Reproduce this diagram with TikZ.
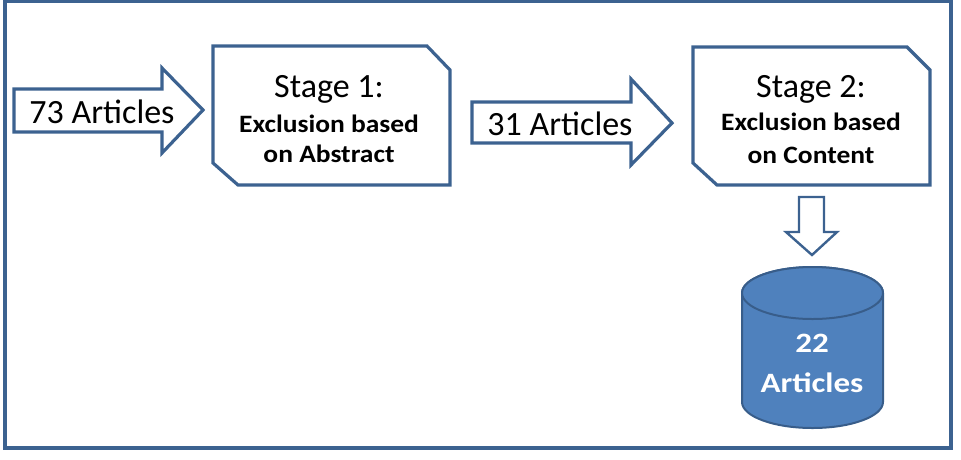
\documentclass[tikz,border=0pt]{standalone}
\usepackage{fontspec}
\setmainfont{Carlito}
\newfontfamily\boldwide[FakeStretch=1.1]{Carlito}
\newfontfamily\boldwider[FakeStretch=1.18]{Carlito}
\definecolor{edge}{HTML}{3C6290}
\definecolor{cylfill}{HTML}{4F81BD}
\definecolor{cyledge}{HTML}{385D8A}
\begin{document}
\begin{tikzpicture}[x=1pt,y=-1pt,
  outline/.style={draw=edge,line width=3.2pt,line join=miter,fill=white},
  big/.style={font=\fontsize{34}{36}\selectfont,inner sep=0pt,anchor=base},
  small/.style={font=\boldwide\bfseries\fontsize{25}{26}\selectfont,inner sep=0pt,anchor=base},
  cyltext/.style={font=\boldwider\bfseries\fontsize{28}{30}\selectfont,inner sep=0pt,anchor=base,text=white}]
\useasboundingbox (0,0) rectangle (961,459);
% outer frame
\draw[draw=edge,line width=3.2pt] (5,1.8) rectangle (951,448);
% arrow 1
\draw[outline] (14,89) -- (162,89) -- (162,68) -- (203,110) -- (162,153) -- (162,132) -- (14,132) -- cycle;
\node[big] (a1) at (102,123) {73 Articles};
% stage 1 box
\draw[outline] (213,46) -- (427,46) -- (450,70) -- (450,185) -- (238,185) -- (213,163) -- cycle;
\node[big] (s1) at (329,97) {Stage 1:};
\node[small] (s1a) at (329,132) {Exclusion based};
\node[small] (s1b) at (329,162) {on Abstract};
% arrow 2
\draw[outline] (472,102) -- (631,102) -- (631,79) -- (672,123) -- (631,165) -- (631,143) -- (472,143) -- cycle;
\node[big] (a2) at (560,135) {31 Articles};
% stage 2 box
\draw[outline] (693,47) -- (907,47) -- (930,70) -- (930,185) -- (717,185) -- (693,163) -- cycle;
\node[big] (s2) at (811,97) {Stage 2:};
\node[small] (s2a) at (811,130) {Exclusion based};
\node[small] (s2b) at (811,163) {on Content};
% down arrow
\draw[draw=edge,line width=2.4pt,fill=white,line join=miter] (799,197) -- (824,197) -- (824,232) -- (837,232) -- (812,255) -- (786,232) -- (799,232) -- cycle;
% cylinder
\draw[draw=cyledge,line width=2pt,fill=cylfill] (742,293) -- (742,402) arc[start angle=180,end angle=0,x radius=70.5,y radius=26] -- (883,293) arc[start angle=0,end angle=-180,x radius=70.5,y radius=26] -- cycle;
\draw[draw=cyledge,line width=2pt,fill=cylfill] (812.5,293) ellipse[x radius=70.5,y radius=26];
\node[cyltext] (c1) at (812,352) {22};
\node[cyltext] (c2) at (812,392) {Articles};
\end{tikzpicture}
\end{document}
